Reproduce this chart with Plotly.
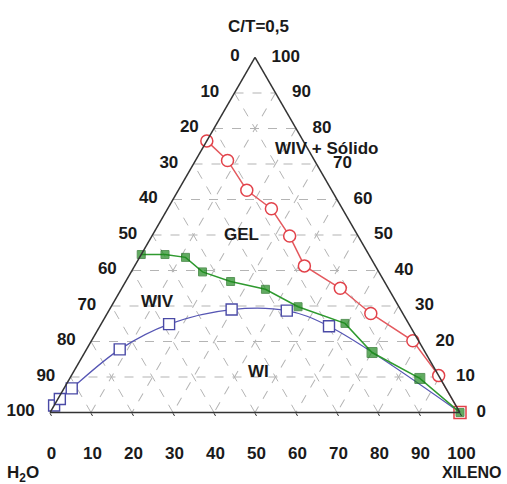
import plotly.graph_objects as go

# Axis ticks (values) and the labels shown in the original (reversed reading)
tick_vals = [0, 10, 20, 30, 40, 50, 60, 70, 80, 90, 100]
tick_text = ["100", "90", "80", "70", "60", "50", "40", "30", "20", "10", "0"]

# Red series (open circles): C/T (a), H2O (b), XILENO (c)
red_ct = [76.5, 71.0, 62.6, 57.4, 49.7, 41.3, 35.0, 27.9, 20.2, 10.4, 0.0]
red_h2o = [23.5, 21.2, 20.7, 17.3, 16.7, 17.3, 11.7, 7.8, 1.4, 0.0, 0.0]
red_xil = [0.0, 7.8, 16.7, 25.3, 33.6, 41.4, 53.3, 64.3, 78.4, 89.6, 100.0]

# Green series (filled squares)
green_ct = [44.5, 44.5, 43.7, 39.6, 36.9, 34.7, 29.8, 25.1, 16.9, 9.6, 0.0]
green_h2o = [55.5, 49.7, 45.1, 43.0, 37.5, 30.1, 24.6, 15.5, 13.0, 5.0, 0.0]
green_xil = [0.0, 5.8, 11.2, 17.4, 25.6, 35.2, 45.6, 59.4, 70.1, 85.4, 100.0]

# Blue series (open squares)
blue_ct = [2.0, 3.8, 6.8, 17.8, 24.9, 29.0, 28.7, 24.3, 0.0]
blue_h2o = [98.0, 95.7, 91.3, 74.1, 58.5, 41.2, 27.9, 19.8, 0.0]
blue_xil = [0.0, 0.5, 1.9, 8.1, 16.6, 29.8, 43.4, 55.9, 100.0]

FONT = "Liberation Sans Narrow, Arial Narrow, Liberation Sans, Arial, sans-serif"
RED = "#e2424a"
GREEN = "#1f8a1f"
BLUE = "#4a4aa6"
NB = "\u00a0"

fig = go.Figure()

fig.add_trace(go.Scatterternary(
    a=blue_ct, b=blue_h2o, c=blue_xil, mode="lines+markers",
    line=dict(color="#5656b4", width=1.3, shape="spline"),
    marker=dict(symbol="square", size=11, color="white",
                line=dict(color=BLUE, width=1.4),
                opacity=[1, 1, 1, 1, 1, 1, 1, 1, 0]),
    showlegend=False, cliponaxis=False))

fig.add_trace(go.Scatterternary(
    a=red_ct, b=red_h2o, c=red_xil, mode="lines+markers",
    line=dict(color="#e45a5f", width=1.5),
    marker=dict(symbol=["circle"] * 10 + ["square"], size=12, color="white",
                line=dict(color=RED, width=1.5)),
    showlegend=False, cliponaxis=False))

fig.add_trace(go.Scatterternary(
    a=green_ct, b=green_h2o, c=green_xil, mode="lines+markers",
    line=dict(color="#2f9a2f", width=1.5),
    marker=dict(symbol="square", size=[8, 8, 8, 8, 8, 8, 8, 8, 10, 10, 8],
                color=GREEN, line=dict(color="#176a17", width=1)),
    showlegend=False, cliponaxis=False))

tick_font = dict(family=FONT, size=17, color="#1a1a1a", weight="bold")
grid_common = dict(
    min=0,
    tickmode="array", tickvals=tick_vals,
    tickfont=tick_font,
    showgrid=True, gridcolor="#b4b4b4", griddash="dash", gridwidth=1,
    showline=True, linecolor="#333333", linewidth=1.5,
    title=dict(text=""),
)

fig.update_layout(
    width=507, height=484,
    margin=dict(l=50, r=47, t=57, b=71),
    paper_bgcolor="white", plot_bgcolor="white",
    font=dict(family=FONT, size=17, color="#1a1a1a", weight="bold"),
    ternary=dict(
        sum=100,
        bgcolor="white",
        domain=dict(x=[0, 1], y=[0, 1]),
        aaxis=dict(grid_common, ticktext=tick_text, ticks="outside",
                   ticklen=12, tickcolor="rgba(0,0,0,0)"),
        baxis=dict(grid_common, ticktext=["<br>" + t for t in tick_text],
                   ticks="outside", ticklen=3, tickcolor="#222222",
                   tickwidth=1.2),
        caxis=dict(grid_common, ticktext=[NB * 3 + t for t in tick_text],
                   ticks=""),
    ),
)

labels = [
    ("C/T=0,5", 0.5075, 1.085, "center", "middle", 17),
    ("H<sub>2</sub>O", -0.065, -0.17, "center", "middle", 17),
    ("XILENO", 1.108, -0.198, "right", "bottom", 16),
    ("WIV + Sólido", 0.675, 0.744, "center", "middle", 17),
    ("GEL", 0.4675, 0.501, "center", "middle", 17),
    ("WIV", 0.2625, 0.313, "center", "middle", 17),
    ("WI", 0.5075, 0.117, "center", "middle", 17),
]
for text, x, y, xa, ya, fs in labels:
    fig.add_annotation(text=text, x=x, y=y, xref="paper", yref="paper",
                       showarrow=False,
                       font=dict(family=FONT, size=fs, color="#1a1a1a",
                                 weight="bold"),
                       xanchor=xa, yanchor=ya)

fig.write_html("out.html")
